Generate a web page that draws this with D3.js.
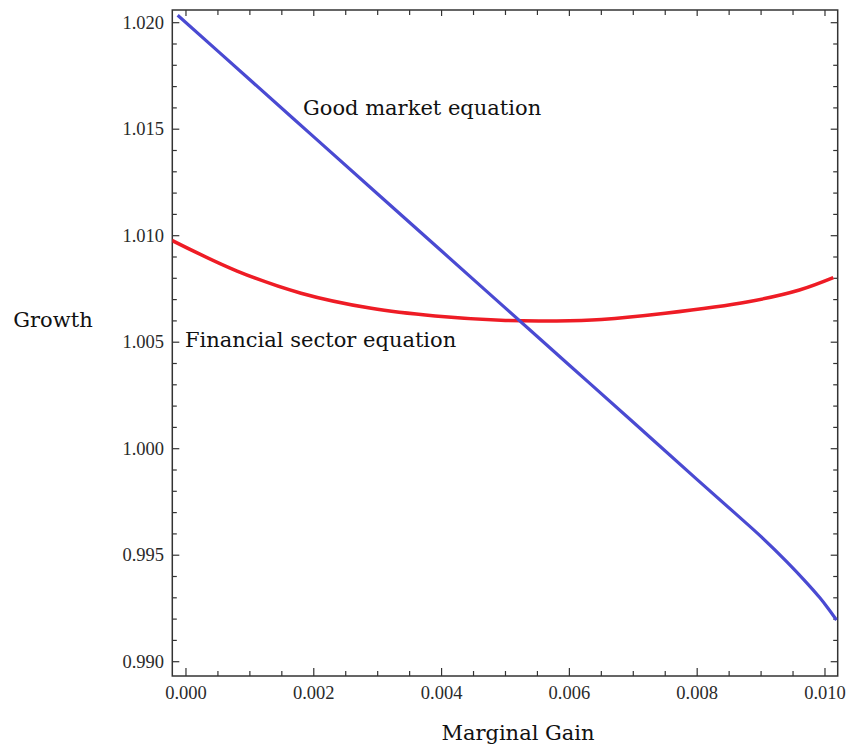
<!DOCTYPE html>
<html>
<head>
<meta charset="utf-8">
<script src="https://cdn.jsdelivr.net/npm/d3@7"></script>
<style>
  body { margin: 0; background: #fff; }
  .tick-label { font-family: "Liberation Serif", serif; font-size: 18.5px; fill: #2a2a2a; }
  .label { font-family: "DejaVu Serif", serif; font-size: 21px; fill: #111; }
</style>
</head>
<body>
<div id="chart"></div>
<script>
// Values
const financialX = [-0.00022, 0.0008, 0.0018, 0.0029, 0.0039, 0.0050, 0.0058, 0.0065, 0.0075, 0.0088, 0.0096, 0.01013];
const financialY = [1.00978, 1.00834, 1.00730, 1.00659, 1.00623, 1.00602, 1.00600, 1.00607, 1.00636, 1.00690, 1.00745, 1.00803];

const goodsX = [-0.00013, 0.0010, 0.0020, 0.0030, 0.0040, 0.0050, 0.0060, 0.0070, 0.0080, 0.0086, 0.0090, 0.0094, 0.0097, 0.00992, 0.01005, 0.01018];
const goodsY = [1.02035, 1.01732, 1.01464, 1.01196, 1.00928, 1.00660, 1.00392, 1.00124, 0.99855, 0.99695, 0.99587, 0.99470, 0.99375, 0.99300, 0.99250, 0.99196];

const xTicks = [0, 0.002, 0.004, 0.006, 0.008, 0.010];
const yTicks = [0.990, 0.995, 1.000, 1.005, 1.010, 1.015, 1.020];

const width = 850, height = 752;
const margin = { left: 172.3, right: 12.3, top: 10, bottom: 76 };

const svg = d3.select('#chart').append('svg')
    .attr('width', width)
    .attr('height', height);

const x = d3.scaleLinear()
    .domain([-0.000214, 0.010199])
    .range([margin.left, width - margin.right]);

const y = d3.scaleLinear()
    .domain([0.989329, 1.020596])
    .range([height - margin.bottom, margin.top]);

// minor ticks
const xMinor = d3.range(0, 0.0102, 0.0005).filter(v => xTicks.every(t => Math.abs(t - v) > 1e-9));
const yMinor = d3.range(0.990, 1.0206, 0.001).filter(v => yTicks.every(t => Math.abs(t - v) > 1e-9));

const frame = svg.append('g');
const x0 = x.range()[0], x1 = x.range()[1];
const y0 = y.range()[0], y1 = y.range()[1];

// bottom + top ticks
frame.selectAll('.xmaj').data(xTicks).join('line')
    .attr('x1', d => x(d)).attr('x2', d => x(d))
    .attr('y1', y0).attr('y2', y0 - 8)
    .attr('stroke', '#333').attr('stroke-width', 1.2);
frame.selectAll('.xmin').data(xMinor).join('line')
    .attr('x1', d => x(d)).attr('x2', d => x(d))
    .attr('y1', y0).attr('y2', y0 - 5)
    .attr('stroke', '#333').attr('stroke-width', 1.2);
frame.selectAll('.xtop').data(xTicks.concat(xMinor)).join('line')
    .attr('x1', d => x(d)).attr('x2', d => x(d))
    .attr('y1', y1).attr('y2', d => y1 + (xTicks.includes(d) ? 6 : 5))
    .attr('stroke', '#333').attr('stroke-width', 1.2);

// left + right ticks
frame.selectAll('.ymaj').data(yTicks).join('line')
    .attr('x1', x0).attr('x2', x0 + 7)
    .attr('y1', d => y(d)).attr('y2', d => y(d))
    .attr('stroke', '#333').attr('stroke-width', 1.2);
frame.selectAll('.ymin').data(yMinor).join('line')
    .attr('x1', x0).attr('x2', x0 + 4.5)
    .attr('y1', d => y(d)).attr('y2', d => y(d))
    .attr('stroke', '#333').attr('stroke-width', 1.2);
frame.selectAll('.yright').data(yTicks.concat(yMinor)).join('line')
    .attr('x1', x1).attr('x2', d => x1 - (yTicks.includes(d) ? 7 : 4.5))
    .attr('y1', d => y(d)).attr('y2', d => y(d))
    .attr('stroke', '#333').attr('stroke-width', 1.2);

// frame box
frame.append('rect')
    .attr('x', x0).attr('y', y1)
    .attr('width', x1 - x0).attr('height', y0 - y1)
    .attr('fill', 'none')
    .attr('stroke', '#333')
    .attr('stroke-width', 1.5);

// tick labels
svg.selectAll('.xl').data(xTicks).join('text')
    .classed('tick-label', true)
    .attr('x', d => x(d))
    .attr('y', 699)
    .attr('text-anchor', 'middle')
    .text(d3.format('.3f'));

svg.selectAll('.yl').data(yTicks).join('text')
    .classed('tick-label', true)
    .attr('x', 164)
    .attr('y', d => y(d) + 6)
    .attr('text-anchor', 'end')
    .text(d3.format('.3f'));

// curves
svg.append('clipPath').attr('id', 'plot-clip')
    .append('rect')
    .attr('x', x0).attr('y', y1)
    .attr('width', x1 - x0).attr('height', y0 - y1);

const line = d3.line()
    .x(d => x(d[0]))
    .y(d => y(d[1]))
    .curve(d3.curveCatmullRom);

const plot = svg.append('g').attr('clip-path', 'url(#plot-clip)');

plot.append('path')
    .datum(d3.zip(financialX, financialY))
    .attr('d', line)
    .attr('fill', 'none')
    .attr('stroke', '#ee1c25')
    .attr('stroke-width', 3.5);

plot.append('path')
    .datum(d3.zip(goodsX, goodsY))
    .attr('d', line)
    .attr('fill', 'none')
    .attr('stroke', '#4a4ad2')
    .attr('stroke-width', 3.2);

// labels
svg.append('text').classed('label', true)
    .attr('x', 303).attr('y', 115)
    .text('Good market equation');

svg.append('text').classed('label', true)
    .attr('x', 185).attr('y', 346.7)
    .text('Financial sector equation');

svg.append('text').classed('label', true)
    .attr('x', 13.3).attr('y', 326.7)
    .text('Growth');

svg.append('text').classed('label', true)
    .attr('x', 518).attr('y', 740)
    .attr('text-anchor', 'middle')
    .text('Marginal Gain');
</script>
</body>
</html>
